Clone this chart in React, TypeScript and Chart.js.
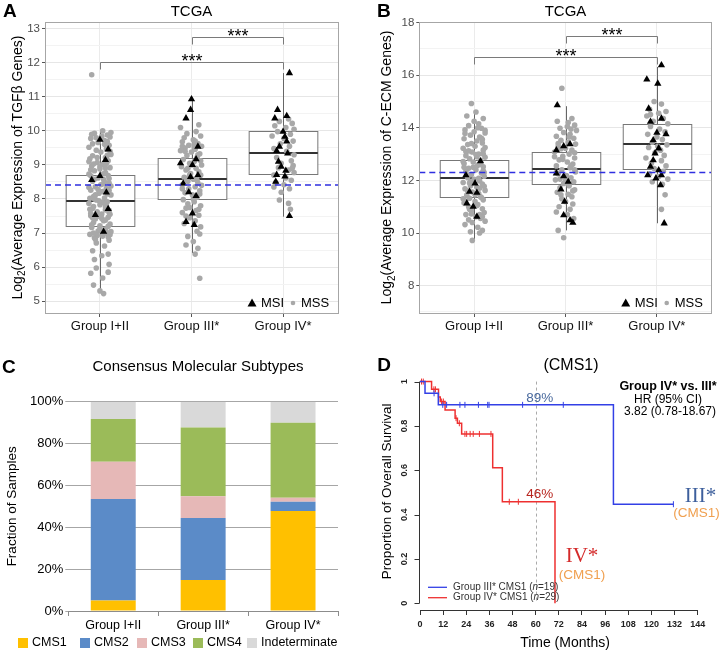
import React, { useEffect, useRef } from "react";
import { Chart, registerables } from "chart.js";

Chart.register(...registerables);

const SANS = "'Liberation Sans', Arial, Helvetica, sans-serif";
const SERIF = "'Liberation Serif', 'DejaVu Serif', 'Times New Roman', serif";

// ---------------- shared ----------------
const groupLabels = ["Group I+II", "Group III*", "Group IV*"];

// ---------------- Panel A : TGFβ (TCGA) ----------------
const tgfYMajor = [5, 6, 7, 8, 9, 10, 11, 12, 13];
const tgfYMinor = [5.5, 6.5, 7.5, 8.5, 9.5, 10.5, 11.5, 12.5];
const tgfQ1 = [7.22, 7.99, 8.74];
const tgfMedian = [7.93, 8.6, 9.35];
const tgfQ3 = [8.7, 9.21, 10.0];
const tgfWhiskerLow = [5.25, 6.41, 7.48];
const tgfWhiskerHigh = [10.0, 10.9, 11.7];
const tgfReference = 8.41;
const tgfBrackets = [
  [2, 3, 12.77],
  [1, 3, 12.02],
];
// [jitter offset, value]
const tgfMssGroup1 = [
  [-0.09, 11.65], [0.03, 10.0], [-0.06, 9.93], [0.08, 9.88], [0.11, 9.82], [-0.1, 9.78], [0.05, 9.72], [-0.02, 9.66],
  [0.1, 9.58], [-0.12, 9.52], [0.07, 9.47], [-0.04, 9.43], [0.01, 9.38], [0.12, 9.31], [-0.08, 9.27], [0.06, 9.22],
  [-0.11, 9.18], [0.09, 9.12], [-0.03, 9.07], [0.03, 9.02], [-0.09, 8.97], [0.11, 8.92], [0.0, 8.88], [-0.06, 8.83],
  [0.06, 8.78], [-0.12, 8.73], [0.09, 8.69], [-0.02, 8.62], [0.04, 8.57], [-0.08, 8.52], [0.1, 8.47], [0.01, 8.42],
  [-0.05, 8.36], [0.07, 8.31], [-0.1, 8.26], [0.03, 8.22], [-0.01, 8.17], [0.12, 8.12], [-0.07, 8.07], [0.05, 8.03],
  [-0.04, 7.97], [0.08, 7.92], [-0.12, 7.87], [0.0, 7.83], [0.06, 7.77], [-0.08, 7.72], [0.1, 7.67], [-0.03, 7.62],
  [0.02, 7.56], [-0.1, 7.51], [0.09, 7.46], [-0.05, 7.41], [0.04, 7.36], [-0.07, 7.31], [0.11, 7.26], [0.0, 7.21],
  [-0.09, 7.16], [0.06, 7.11], [-0.02, 7.06], [0.08, 7.01], [-0.11, 6.96], [0.03, 6.91], [-0.06, 6.86], [0.1, 6.79],
  [-0.04, 6.71], [0.05, 6.62], [-0.08, 6.48], [0.09, 6.38], [0.02, 6.33], [-0.06, 6.22], [0.1, 6.08], [-0.04, 5.97],
  [-0.1, 5.82], [0.09, 5.85], [0.03, 5.68], [-0.07, 5.47], [0.0, 5.3], [0.04, 5.22], [0.05, 9.61], [-0.07, 9.03],
  [0.1, 8.6], [-0.05, 8.12], [0.07, 7.8], [-0.1, 7.58], [0.02, 7.43], [0.12, 7.04], [-0.03, 6.93], [0.06, 8.91],
  [-0.12, 8.34], [0.0, 7.13], [0.08, 9.69], [-0.09, 9.9], [0.11, 6.95], [-0.01, 7.49], [0.04, 8.45], [-0.06, 8.0],
  [0.09, 7.2], [-0.11, 7.7], [0.02, 9.84], [-0.08, 9.62], [0.11, 9.4], [-0.03, 9.22], [0.07, 9.05], [-0.1, 8.86],
  [0.04, 8.74], [-0.06, 8.58], [0.12, 8.38], [-0.02, 8.28], [0.08, 8.15], [-0.11, 8.02], [0.03, 7.9], [-0.07, 7.78],
  [0.1, 7.6], [-0.04, 7.52], [0.06, 7.38], [-0.09, 7.24], [0.01, 7.09], [0.09, 6.88], [-0.05, 6.82], [0.12, 9.95],
  [-0.12, 9.1], [0.05, 8.5], [-0.01, 7.95], [0.11, 7.55], [-0.07, 7.0], [0.04, 6.98], [-0.1, 8.68], [0.08, 9.28],
  [-0.04, 9.8], [0.0, 8.95], [0.1, 8.25], [-0.08, 7.45], [0.06, 7.68],
];
const tgfMssGroup2 = [
  [0.08, 10.18], [-0.12, 10.1], [0.05, 9.98], [-0.05, 9.92], [0.1, 9.85], [-0.08, 9.8], [0.02, 9.74], [-0.1, 9.68],
  [0.07, 9.63], [-0.03, 9.58], [0.11, 9.55], [-0.07, 9.5], [0.04, 9.46], [-0.12, 9.42], [0.0, 9.38], [0.09, 9.33],
  [-0.05, 9.28], [0.06, 9.22], [-0.09, 9.16], [0.03, 9.1], [-0.02, 9.05], [0.11, 9.0], [-0.11, 8.95], [0.05, 8.9],
  [-0.06, 8.85], [0.08, 8.8], [-0.01, 8.75], [0.1, 8.7], [-0.08, 8.64], [0.02, 8.58], [-0.04, 8.52], [0.07, 8.47],
  [-0.1, 8.42], [0.04, 8.36], [-0.03, 8.3], [0.09, 8.24], [-0.07, 8.18], [0.01, 8.12], [0.06, 8.05], [-0.09, 7.98],
  [0.03, 7.92], [-0.04, 7.86], [0.1, 7.8], [-0.06, 7.73], [0.05, 7.66], [-0.1, 7.6], [0.08, 7.52], [-0.02, 7.45],
  [0.04, 7.36], [-0.08, 7.28], [0.1, 7.18], [0.06, 7.05], [0.09, 6.97], [-0.04, 6.9], [0.02, 6.75], [-0.06, 6.65],
  [0.07, 6.55], [0.04, 6.38], [0.09, 5.67], [-0.1, 9.55], [0.03, 9.6], [0.0, 9.0], [-0.06, 8.6], [0.11, 8.4],
  [-0.02, 7.75], [0.07, 9.3], [0.03, 9.52], [-0.07, 9.4], [0.1, 9.12], [-0.04, 8.9], [0.06, 8.55], [-0.1, 8.3],
  [0.02, 8.0], [0.08, 7.7], [-0.06, 7.5], [0.04, 9.7], [-0.02, 8.7], [0.09, 8.15],
];
const tgfMssGroup3 = [
  [0.06, 10.35], [-0.04, 10.28], [0.1, 10.22], [-0.09, 10.15], [0.03, 10.1], [0.12, 10.05], [-0.06, 9.98], [0.08, 9.9],
  [-0.12, 9.85], [0.01, 9.78], [0.11, 9.7], [-0.03, 9.62], [0.07, 9.55], [-0.1, 9.48], [0.04, 9.4], [0.12, 9.3],
  [-0.07, 9.22], [0.09, 9.12], [-0.02, 9.05], [0.11, 8.98], [-0.05, 8.92], [0.06, 8.85], [0.12, 8.78], [-0.1, 8.7],
  [0.03, 8.62], [0.09, 8.55], [-0.08, 8.48], [0.01, 8.42], [-0.1, 8.35], [0.07, 8.3], [-0.04, 7.97], [0.06, 7.87],
  [0.08, 7.7], [0.1, 8.9], [-0.02, 8.2],
];
const tgfMsiGroup1 = [
  [0, 9.74], [0.09, 9.46], [0.06, 9.15], [0, 8.68], [-0.09, 8.56], [0.07, 8.19], [0.09, 7.71], [-0.05, 7.53], [0.04, 7.04],
];
const tgfMsiGroup2 = [
  [0, 10.93], [-0.01, 10.62], [-0.06, 10.37], [0.07, 9.54], [-0.12, 9.05], [0.05, 9.17], [0.01, 9.0], [0.07, 8.7],
  [-0.01, 8.65], [-0.09, 8.46], [0.05, 8.09], [-0.06, 7.33], [0.03, 7.24], [0.01, 7.58], [-0.03, 8.2],
];
const tgfMsiGroup3 = [
  [0.07, 11.7], [-0.06, 10.62], [-0.09, 10.37], [0.04, 10.44], [0, 9.98], [0.02, 9.83], [-0.04, 9.54], [0.04, 9.69],
  [0.05, 9.34], [-0.07, 9.41], [-0.05, 9.1], [-0.02, 8.95], [0.03, 8.83], [-0.07, 8.71], [-0.08, 8.51], [0.02, 8.66],
  [0.07, 7.5],
];

// ---------------- Panel B : C-ECM (TCGA) ----------------
const ecmYMajor = [8, 10, 12, 14, 16, 18];
const ecmYMinor = [7, 9, 11, 13, 15, 17];
const ecmQ1 = [11.35, 11.85, 12.45];
const ecmMedian = [12.08, 12.44, 13.37];
const ecmQ3 = [12.77, 13.09, 14.16];
const ecmWhiskerLow = [9.75, 10.1, 10.37];
const ecmWhiskerHigh = [14.6, 14.82, 16.31];
const ecmReference = 12.3;
const ecmBrackets = [
  [2, 3, 17.49],
  [1, 3, 16.69],
];
const ecmMssGroup1 = [
  [-0.03, 14.92], [0.02, 14.6], [0.1, 14.35], [-0.08, 14.45], [0.05, 14.15], [-0.06, 14.08], [0.08, 13.98], [-0.1, 13.92],
  [0.0, 13.85], [0.12, 13.8], [-0.04, 13.72], [0.06, 13.65], [-0.11, 13.58], [0.03, 13.5], [0.09, 13.42], [-0.07, 13.36],
  [0.01, 13.3], [-0.12, 13.22], [0.1, 13.15], [-0.02, 13.08], [0.05, 13.0], [-0.09, 12.94], [0.12, 12.88], [-0.05, 12.82],
  [0.07, 12.76], [-0.01, 12.7], [-0.11, 12.64], [0.04, 12.58], [0.1, 12.52], [-0.06, 12.46], [0.02, 12.4], [-0.09, 12.34],
  [0.08, 12.28], [-0.03, 12.22], [0.11, 12.16], [-0.07, 12.1], [0.0, 12.04], [0.06, 11.98], [-0.12, 11.92], [0.09, 11.86],
  [-0.04, 11.8], [0.03, 11.74], [-0.1, 11.68], [0.12, 11.62], [-0.02, 11.56], [0.05, 11.5], [-0.08, 11.44], [0.07, 11.38],
  [-0.05, 11.32], [0.1, 11.26], [0.01, 11.2], [-0.11, 11.14], [0.04, 11.08], [-0.06, 11.0], [0.09, 10.92], [-0.03, 10.85],
  [0.11, 10.78], [-0.09, 10.7], [0.02, 10.62], [0.07, 10.55], [-0.06, 10.5], [0.12, 10.45], [-0.1, 10.32], [0.04, 10.22],
  [0.09, 10.1], [-0.04, 10.05], [0.06, 10.0], [-0.02, 9.72], [0.08, 13.6], [-0.09, 13.1], [0.11, 12.3], [-0.05, 11.9],
  [0.03, 12.9], [-0.12, 11.3], [0.06, 10.7], [0.0, 14.25], [0.04, 14.0], [-0.1, 13.78], [0.09, 13.55], [-0.03, 13.4],
  [0.12, 13.25], [-0.06, 13.12], [0.02, 12.98], [-0.12, 12.72], [0.07, 12.62], [-0.01, 12.5], [0.1, 12.36], [-0.08, 12.2],
  [0.05, 12.08], [-0.04, 11.95], [0.11, 11.78], [-0.07, 11.6], [0.01, 11.45], [0.08, 11.35], [-0.1, 11.22], [0.03, 11.05],
  [-0.05, 10.9], [0.09, 10.62], [-0.02, 10.4], [0.12, 13.9], [-0.11, 12.5], [0.06, 11.7], [-0.03, 10.72], [0.1, 13.0],
];
const ecmMssGroup2 = [
  [-0.04, 15.5], [0.07, 14.35], [-0.09, 14.25], [0.1, 14.1], [0.02, 14.05], [-0.06, 13.98], [0.12, 13.9], [-0.02, 13.82],
  [0.05, 13.75], [-0.1, 13.68], [0.09, 13.6], [-0.05, 13.52], [0.03, 13.45], [0.11, 13.38], [-0.08, 13.3], [0.0, 13.22],
  [0.07, 13.15], [-0.12, 13.08], [0.04, 13.0], [-0.03, 12.92], [0.1, 12.85], [-0.07, 12.78], [0.02, 12.7], [0.08, 12.62],
  [-0.1, 12.55], [0.05, 12.48], [-0.04, 12.4], [0.11, 12.32], [-0.08, 12.25], [0.01, 12.18], [0.06, 12.1], [-0.11, 12.02],
  [0.09, 11.95], [-0.02, 11.88], [0.04, 11.8], [-0.06, 11.72], [0.1, 11.64], [-0.09, 11.55], [0.03, 11.47], [0.07, 11.38],
  [-0.04, 11.3], [0.0, 11.2], [0.08, 11.1], [-0.07, 11.0], [0.05, 10.9], [-0.1, 10.8], [0.02, 10.7], [0.09, 10.55],
  [-0.08, 10.1], [-0.02, 9.82], [0.06, 13.95], [-0.05, 13.2], [0.1, 12.4], [0.0, 12.0], [-0.12, 12.9], [0.04, 13.65],
  [-0.08, 13.4], [0.1, 13.05], [-0.03, 12.8], [0.06, 12.55], [-0.1, 12.3], [0.02, 11.9], [0.08, 11.6], [-0.05, 11.45],
  [0.03, 14.2], [-0.06, 12.05],
];
const ecmMssGroup3 = [
  [-0.03, 15.0], [0.05, 14.9], [-0.08, 14.7], [0.1, 14.62], [0.02, 14.55], [-0.11, 14.45], [0.07, 14.35], [-0.04, 14.25],
  [0.12, 14.15], [-0.07, 14.05], [0.03, 13.95], [0.09, 13.85], [-0.1, 13.75], [0.0, 13.65], [0.06, 13.55], [-0.05, 13.45],
  [0.11, 13.35], [-0.09, 13.25], [0.04, 13.15], [-0.02, 13.05], [0.08, 12.95], [-0.12, 12.85], [0.05, 12.75], [-0.06, 12.65],
  [0.1, 12.55], [-0.03, 12.45], [0.07, 12.35], [-0.08, 12.25], [0.02, 12.15], [0.12, 12.05], [-0.05, 11.95], [0.06, 11.85],
  [0.09, 11.45], [0.05, 10.9], [-0.07, 14.5], [0.01, 13.3],
];
const ecmMsiGroup1 = [
  [0.07, 12.73], [0.01, 11.89], [-0.09, 12.2], [-0.05, 11.57], [0.03, 11.53], [-0.08, 11.13], [0.03, 10.62], [-0.01, 11.0],
];
const ecmMsiGroup2 = [
  [-0.09, 14.86], [-0.1, 13.15], [0.05, 13.38], [-0.02, 13.3], [-0.1, 12.27], [-0.02, 12.16], [0.03, 11.95], [-0.05, 11.66],
  [-0.01, 11.19], [-0.02, 10.68], [0.05, 10.49], [0.08, 10.39],
];
const ecmMsiGroup3 = [
  [0.05, 16.38], [-0.11, 15.84], [0.01, 15.68], [-0.09, 14.73], [-0.07, 14.23], [0.05, 14.35], [0.1, 13.76], [0, 13.81],
  [-0.04, 13.53], [0.02, 13.22], [-0.02, 13.03], [-0.04, 12.77], [-0.07, 12.52], [0.02, 12.39], [-0.1, 12.2], [0.05, 12.2],
  [-0.01, 12.08], [0.04, 11.82], [0.08, 10.37],
];

// ---------------- Panel C : CMS stacked bars ----------------
const cmsNames = ["CMS1", "CMS2", "CMS3", "CMS4", "Indeterminate"];
const cmsColors = ["#FFC000", "#5B8BC8", "#E6B8B7", "#9BBB59", "#D9D9D9"];
const cms1 = [5.0, 14.8, 47.8];
const cms2 = [48.5, 29.6, 4.4];
const cms3 = [17.8, 10.4, 1.9];
const cms4 = [20.4, 32.9, 35.9];
const cmsIndeterminate = [8.3, 12.3, 10.0];
const cmsYTicks = [0, 20, 40, 60, 80, 100];

// ---------------- Panel D : Kaplan-Meier (CMS1) ----------------
const kmXTicks = [0, 12, 24, 36, 48, 60, 72, 84, 96, 108, 120, 132, 144];
const kmYTicks = [0, 0.2, 0.4, 0.6, 0.8, 1];
const kmYTickLabels = ["0", "0.2", "0.4", "0.6", "0.8", "1"];
const group3Times = [0, 2.6, 9.5, 100.3, 131.4];
const group3Surv = [1, 0.947, 0.895, 0.447, 0.447];
const group3CensorTimes = [7.3, 11.8, 13.8, 20.7, 23.3, 30.3, 35.1, 35.8, 53.2, 74.3, 131.4];
const group3CensorSurv = [0.947, 0.895, 0.895, 0.895, 0.895, 0.895, 0.895, 0.895, 0.895, 0.895, 0.447];
const group4Times = [0, 6.0, 9.6, 10.5, 13.0, 18.2, 19.4, 21.6, 37.7, 42.7, 70.0];
const group4Surv = [1, 0.965, 0.93, 0.91, 0.872, 0.835, 0.812, 0.764, 0.611, 0.458, 0];
const group4CensorTimes = [0.8, 1.7, 7.2, 8.0, 11.2, 12.1, 18.7, 20.4, 23.3, 24.2, 26.0, 27.6, 30.8, 36.8, 46.3, 51.0];
const group4CensorSurv = [1, 1, 0.965, 0.965, 0.91, 0.91, 0.835, 0.812, 0.764, 0.764, 0.764, 0.764, 0.764, 0.764, 0.458, 0.458];
const kmLandmark = 60;
const kmLandmarkSurv = [0.895, 0.458];
const kmLandmarkLabels = ["89%", "46%"];

// ---------------- helpers ----------------
function jitterPoints(groups: number[][][]) {
  const out: { x: number; y: number }[] = [];
  groups.forEach((g, i) => g.forEach(([dx, v]) => out.push({ x: i + 1 + dx, y: v })));
  return out;
}

function drawRotatedLog2Title(ctx: CanvasRenderingContext2D, cx: number, cy: number, rest: string, size: number) {
  ctx.save();
  ctx.translate(cx, cy);
  ctx.rotate(-Math.PI / 2);
  ctx.fillStyle = "#000";
  ctx.textBaseline = "middle";
  ctx.textAlign = "left";
  const f = `${size}px ${SANS}`;
  const fs = `${Math.round(size * 0.72)}px ${SANS}`;
  ctx.font = f;
  const w1 = ctx.measureText("Log").width;
  const w3 = ctx.measureText(rest).width;
  ctx.font = fs;
  const w2 = ctx.measureText("2").width;
  const x0 = -(w1 + w2 + w3) / 2;
  ctx.font = f;
  ctx.fillText("Log", x0, 0);
  ctx.font = fs;
  ctx.fillText("2", x0 + w1, size * 0.32);
  ctx.font = f;
  ctx.fillText(rest, x0 + w1 + w2, 0);
  ctx.restore();
}

function drawRotatedText(ctx: CanvasRenderingContext2D, text: string, cx: number, cy: number, font: string, color = "#000") {
  ctx.save();
  ctx.translate(cx, cy);
  ctx.rotate(-Math.PI / 2);
  ctx.font = font;
  ctx.fillStyle = color;
  ctx.textAlign = "center";
  ctx.textBaseline = "middle";
  ctx.fillText(text, 0, 0);
  ctx.restore();
}

function text(ctx: CanvasRenderingContext2D, s: string, x: number, y: number, font: string, color = "#000", align: CanvasTextAlign = "center", baseline: CanvasTextBaseline = "middle") {
  ctx.font = font;
  ctx.fillStyle = color;
  ctx.textAlign = align;
  ctx.textBaseline = baseline;
  ctx.fillText(s, x, y);
}

type BoxCfg = {
  q1: number[];
  med: number[];
  q3: number[];
  lo: number[];
  hi: number[];
  ref: number;
  brackets: number[][];
  letter: string;
  letterX: number;
  yTitleRest: string;
  yTitleX: number;
};

function makeBoxPlugin(p: BoxCfg) {
  return {
    id: "boxPanel",
    beforeDatasetsDraw(chart: any) {
      const { ctx, scales } = chart;
      const x = scales.x;
      const y = scales.y;
      ctx.save();
      for (let i = 0; i < p.q1.length; i++) {
        const cx = Math.round(x.getPixelForValue(i + 1)) + 0.5;
        const half = x.getPixelForValue(i + 1 + 0.375) - x.getPixelForValue(i + 1);
        const yq1 = Math.round(y.getPixelForValue(p.q1[i])) + 0.5;
        const yq3 = Math.round(y.getPixelForValue(p.q3[i])) + 0.5;
        const ym = Math.round(y.getPixelForValue(p.med[i]));
        const ylo = y.getPixelForValue(p.lo[i]);
        const yhi = y.getPixelForValue(p.hi[i]);
        ctx.strokeStyle = "#666";
        ctx.lineWidth = 1;
        ctx.beginPath();
        ctx.moveTo(cx, yq1);
        ctx.lineTo(cx, ylo);
        ctx.moveTo(cx, yq3);
        ctx.lineTo(cx, yhi);
        ctx.stroke();
        ctx.fillStyle = "#fff";
        ctx.fillRect(cx - half, yq3, 2 * half, yq1 - yq3);
        ctx.strokeStyle = "#777";
        ctx.strokeRect(cx - half, yq3, 2 * half, yq1 - yq3);
        ctx.strokeStyle = "#333";
        ctx.lineWidth = 1.8;
        ctx.beginPath();
        ctx.moveTo(cx - half, ym);
        ctx.lineTo(cx + half, ym);
        ctx.stroke();
      }
      ctx.restore();
    },
    afterDatasetsDraw(chart: any) {
      const { ctx, scales, chartArea: a } = chart;
      const x = scales.x;
      const y = scales.y;
      ctx.save();
      const yr = y.getPixelForValue(p.ref);
      ctx.strokeStyle = "#2f2fe0";
      ctx.lineWidth = 1.5;
      ctx.setLineDash([6, 4]);
      ctx.beginPath();
      ctx.moveTo(a.left, yr);
      ctx.lineTo(a.right, yr);
      ctx.stroke();
      ctx.setLineDash([]);
      for (const [g1, g2, v] of p.brackets) {
        const x1 = Math.round(x.getPixelForValue(g1)) + 0.5;
        const x2 = Math.round(x.getPixelForValue(g2)) + 0.5;
        const yy = Math.round(y.getPixelForValue(v)) + 0.5;
        ctx.strokeStyle = "#7a7a7a";
        ctx.lineWidth = 1;
        ctx.beginPath();
        ctx.moveTo(x1, yy + 7);
        ctx.lineTo(x1, yy);
        ctx.lineTo(x2, yy);
        ctx.lineTo(x2, yy + 7);
        ctx.stroke();
        text(ctx, "***", (x1 + x2) / 2, yy + 4, `18px ${SANS}`, "#000", "center", "alphabetic");
      }
      ctx.strokeStyle = "#a6a6a6";
      ctx.lineWidth = 1;
      ctx.strokeRect(Math.round(a.left) + 0.5, Math.round(a.top) + 0.5, Math.round(a.right - a.left), Math.round(a.bottom - a.top));
      const ly = a.bottom - 10;
      const r = a.right;
      ctx.fillStyle = "#000";
      ctx.beginPath();
      ctx.moveTo(r - 86, ly - 4.5);
      ctx.lineTo(r - 81.5, ly + 3.5);
      ctx.lineTo(r - 90.5, ly + 3.5);
      ctx.closePath();
      ctx.fill();
      text(ctx, "MSI", r - 77, ly, `13px ${SANS}`, "#000", "left");
      ctx.fillStyle = "#a8a8a8";
      ctx.beginPath();
      ctx.arc(r - 45, ly, 2.3, 0, Math.PI * 2);
      ctx.fill();
      text(ctx, "MSS", r - 37, ly, `13px ${SANS}`, "#000", "left");
      text(ctx, "TCGA", (a.left + a.right) / 2, 12, `15px ${SANS}`);
      text(ctx, p.letter, p.letterX, 12, `bold 19px ${SANS}`, "#000", "left");
      drawRotatedLog2Title(ctx, p.yTitleX, (a.top + a.bottom) / 2, p.yTitleRest, 14);
      ctx.restore();
    },
  };
}

function boxConfig(
  mss: { x: number; y: number }[],
  msi: { x: number; y: number }[],
  yMin: number,
  yMax: number,
  major: number[],
  minor: number[],
  yAxisWidth: number,
  padRight: number,
  plugin: any
) {
  const all = [...major, ...minor].sort((a, b) => a - b);
  const isMajor = (c: any) => c && c.tick && major.includes(c.tick.value);
  return {
    type: "scatter",
    data: {
      datasets: [
        { data: msi, pointStyle: "triangle", pointRadius: 4.2, backgroundColor: "#000", borderColor: "#000", borderWidth: 0 },
        { data: mss, pointStyle: "circle", pointRadius: 2.8, backgroundColor: "#a8a8a8", borderColor: "#a8a8a8", borderWidth: 0 },
      ],
    },
    options: {
      animation: false,
      responsive: false,
      devicePixelRatio: 1,
      events: [],
      layout: { padding: { top: 22, right: padRight, left: 0, bottom: 0 } },
      plugins: { legend: { display: false }, tooltip: { enabled: false } },
      scales: {
        x: {
          type: "linear",
          min: 0.4,
          max: 3.6,
          afterBuildTicks: (s: any) => {
            s.ticks = [1, 2, 3].map((v) => ({ value: v }));
          },
          afterFit: (s: any) => {
            s.height = 27;
          },
          ticks: {
            callback: (v: number) => groupLabels[Math.round(v) - 1],
            font: { size: 13, family: SANS },
            color: "#111",
            padding: 2,
            autoSkip: false,
            maxRotation: 0,
            minRotation: 0,
          },
          grid: { color: "#ebebeb", tickColor: "#555", tickLength: 4 },
          border: { display: false },
        },
        y: {
          type: "linear",
          min: yMin,
          max: yMax,
          afterBuildTicks: (s: any) => {
            s.ticks = all.map((v) => ({ value: v }));
          },
          afterFit: (s: any) => {
            s.width = yAxisWidth;
          },
          ticks: {
            callback: (v: number) => (major.includes(v) ? String(v) : ""),
            font: { size: 11.5, family: SANS },
            color: "#4d4d4d",
            padding: 2,
            autoSkip: false,
          },
          grid: {
            color: (c: any) => (isMajor(c) ? "#e6e6e6" : "#f3f3f3"),
            tickColor: (c: any) => (isMajor(c) ? "#555" : "rgba(0,0,0,0)"),
            tickLength: 3,
          },
          border: { display: false },
        },
      },
    },
    plugins: [plugin],
  };
}

function makeA() {
  const plugin = makeBoxPlugin({
    q1: tgfQ1,
    med: tgfMedian,
    q3: tgfQ3,
    lo: tgfWhiskerLow,
    hi: tgfWhiskerHigh,
    ref: tgfReference,
    brackets: tgfBrackets,
    letter: "A",
    letterX: 3,
    yTitleRest: "(Average Expression of TGFβ Genes)",
    yTitleX: 18,
  });
  return boxConfig(
    jitterPoints([tgfMssGroup1, tgfMssGroup2, tgfMssGroup3]),
    jitterPoints([tgfMsiGroup1, tgfMsiGroup2, tgfMsiGroup3]),
    4.65,
    13.2,
    tgfYMajor,
    tgfYMinor,
    45,
    22,
    plugin
  );
}

function makeB() {
  const plugin = makeBoxPlugin({
    q1: ecmQ1,
    med: ecmMedian,
    q3: ecmQ3,
    lo: ecmWhiskerLow,
    hi: ecmWhiskerHigh,
    ref: ecmReference,
    brackets: ecmBrackets,
    letter: "B",
    letterX: 17,
    yTitleRest: "(Average Expression of C-ECM Genes)",
    yTitleX: 27.5,
  });
  return boxConfig(
    jitterPoints([ecmMssGroup1, ecmMssGroup2, ecmMssGroup3]),
    jitterPoints([ecmMsiGroup1, ecmMsiGroup2, ecmMsiGroup3]),
    6.96,
    18.02,
    ecmYMajor,
    ecmYMinor,
    59.3,
    11.3,
    plugin
  );
}

function makeC() {
  const series = [cms1, cms2, cms3, cms4, cmsIndeterminate];
  const plugin = {
    id: "cmsDecor",
    afterDraw(chart: any) {
      const { ctx, chartArea: a } = chart;
      ctx.save();
      text(ctx, "C", 2, 27.5, `bold 19px ${SANS}`, "#000", "left");
      text(ctx, "Consensus Molecular Subtypes", 198, 27, `15px ${SANS}`);
      drawRotatedText(ctx, "Fraction of Samples", 12.5, (a.top + a.bottom) / 2, `13.5px ${SANS}`);
      const legX = [18, 80, 137, 193, 247];
      const ly = 303;
      cmsNames.forEach((n, i) => {
        ctx.fillStyle = cmsColors[i];
        ctx.fillRect(legX[i], ly - 5, 10, 10);
        text(ctx, n, legX[i] + 14, ly, `12.5px ${SANS}`, "#000", "left");
      });
      ctx.restore();
    },
  };
  return {
    type: "bar",
    data: {
      labels: groupLabels,
      datasets: series.map((d, i) => ({
        label: cmsNames[i],
        data: d,
        backgroundColor: cmsColors[i],
        borderWidth: 0,
        barPercentage: 0.5,
        categoryPercentage: 1.0,
      })),
    },
    options: {
      animation: false,
      responsive: false,
      devicePixelRatio: 1,
      events: [],
      layout: { padding: { top: 61.7, right: 22, left: 0, bottom: 0 } },
      plugins: { legend: { display: false }, tooltip: { enabled: false } },
      scales: {
        x: {
          stacked: true,
          afterFit: (s: any) => {
            s.height = 44;
          },
          ticks: { font: { size: 12.5, family: SANS }, color: "#000", padding: 2, maxRotation: 0, autoSkip: false },
          grid: { display: true, drawOnChartArea: false, offset: true, color: "#8c8c8c", tickLength: 5 },
          border: { display: true, color: "#8c8c8c" },
        },
        y: {
          stacked: true,
          min: 0,
          max: 100,
          afterBuildTicks: (s: any) => {
            s.ticks = cmsYTicks.map((v) => ({ value: v }));
          },
          afterFit: (s: any) => {
            s.width = 68.3;
          },
          ticks: { callback: (v: number) => `${v}%`, font: { size: 13, family: SANS }, color: "#000", padding: 2 },
          grid: { color: "#a6a6a6", tickLength: 3 },
          border: { display: false },
        },
      },
    },
    plugins: [plugin],
  };
}

function makeD() {
  const blue = "#3340e6";
  const red = "#ee3030";
  const plugin = {
    id: "kmDecor",
    beforeDatasetsDraw(chart: any) {
      const { ctx, scales } = chart;
      const x = scales.x;
      const y = scales.y;
      ctx.save();
      const xv = Math.round(x.getPixelForValue(kmLandmark)) + 0.5;
      ctx.strokeStyle = "#aaaaaa";
      ctx.lineWidth = 1;
      ctx.setLineDash([3, 3]);
      ctx.beginPath();
      ctx.moveTo(xv, y.getPixelForValue(1));
      ctx.lineTo(xv, y.getPixelForValue(0));
      ctx.stroke();
      ctx.restore();
    },
    afterDatasetsDraw(chart: any) {
      const { ctx, scales, chartArea: a } = chart;
      const x = scales.x;
      const y = scales.y;
      ctx.save();
      const ax = Math.round(a.left) - 0.5;
      ctx.strokeStyle = "#333";
      ctx.lineWidth = 1;
      ctx.beginPath();
      ctx.moveTo(ax, y.getPixelForValue(0));
      ctx.lineTo(ax, y.getPixelForValue(1));
      kmYTicks.forEach((v) => {
        const py = Math.round(y.getPixelForValue(v)) + 0.5;
        ctx.moveTo(ax, py);
        ctx.lineTo(ax - 5, py);
      });
      ctx.stroke();
      kmYTicks.forEach((v, i) => {
        drawRotatedText(ctx, kmYTickLabels[i], ax - 15, y.getPixelForValue(v), `bold 9px ${SANS}`, "#222");
      });
      const lx = x.getPixelForValue(kmLandmark) + 4;
      text(ctx, kmLandmarkLabels[0], lx, y.getPixelForValue(kmLandmarkSurv[0]) - 2.5, `13.5px ${SANS}`, "#4a6a9e", "center", "alphabetic");
      text(ctx, kmLandmarkLabels[1], lx, y.getPixelForValue(kmLandmarkSurv[1]) - 3.5, `13.5px ${SANS}`, "#b8261f", "center", "alphabetic");
      const e3x = x.getPixelForValue(group3Times[group3Times.length - 1]);
      const e3y = y.getPixelForValue(group3Surv[group3Surv.length - 1]);
      text(ctx, "III*", e3x + 27, e3y - 8, `21px ${SERIF}`, "#3d5f9c");
      text(ctx, "(CMS1)", e3x + 23, e3y + 9, `13.5px ${SANS}`, "#f0a050");
      const e4x = x.getPixelForValue(group4Times[group4Times.length - 1]);
      const e4y = y.getPixelForValue(0.2);
      text(ctx, "IV*", e4x + 27, e4y - 3, `21px ${SERIF}`, "#d42a2a");
      text(ctx, "(CMS1)", e4x + 27, e4y + 16, `13.5px ${SANS}`, "#f0a050");
      text(ctx, "D", 17.3, 26, `bold 19px ${SANS}`, "#000", "left");
      text(ctx, "(CMS1)", 211, 26, `16px ${SANS}`);
      text(ctx, "Group IV* vs. III*", 308, 47, `bold 12.5px ${SANS}`);
      text(ctx, "HR (95% CI)", 308, 60, `12px ${SANS}`);
      text(ctx, "3.82 (0.78-18.67)", 310, 72, `12px ${SANS}`);
      drawRotatedText(ctx, "Proportion of Overall Survival", 27.5, (a.top + a.bottom) / 2, `13.5px ${SANS}`);
      text(ctx, "Time (Months)", 205, 303, `14px ${SANS}`);
      const legs = [
        { c: blue, pre: "Group III* CMS1 (", post: "=19)", y: 247.3 },
        { c: red, pre: "Group IV* CMS1 (", post: "=29)", y: 257.7 },
      ];
      legs.forEach((l) => {
        ctx.strokeStyle = l.c;
        ctx.lineWidth = 1.3;
        ctx.beginPath();
        ctx.moveTo(68, l.y);
        ctx.lineTo(87, l.y);
        ctx.stroke();
        ctx.font = `10px ${SANS}`;
        const w1 = ctx.measureText(l.pre).width;
        text(ctx, l.pre, 93, l.y, `10px ${SANS}`, "#333", "left");
        ctx.font = `italic 10px ${SANS}`;
        const w2 = ctx.measureText("n").width;
        text(ctx, "n", 93 + w1, l.y, `italic 10px ${SANS}`, "#333", "left");
        text(ctx, l.post, 93 + w1 + w2, l.y, `10px ${SANS}`, "#333", "left");
      });
      ctx.restore();
    },
  };
  const toPts = (t: number[], s: number[]) => t.map((v, i) => ({ x: v, y: s[i] }));
  return {
    type: "line",
    data: {
      datasets: [
        { data: toPts(group3Times, group3Surv), stepped: true, borderColor: blue, borderWidth: 1.5, pointRadius: 0, fill: false },
        { data: toPts(group4Times, group4Surv), stepped: true, borderColor: red, borderWidth: 1.5, pointRadius: 0, fill: false },
        {
          data: toPts(group3CensorTimes, group3CensorSurv),
          showLine: false,
          pointStyle: "line",
          pointRotation: 90,
          pointRadius: 3,
          pointBorderWidth: 1,
          pointBorderColor: blue,
          borderColor: blue,
        },
        {
          data: toPts(group4CensorTimes, group4CensorSurv),
          showLine: false,
          pointStyle: "line",
          pointRotation: 90,
          pointRadius: 3,
          pointBorderWidth: 1,
          pointBorderColor: red,
          borderColor: red,
        },
      ],
    },
    options: {
      animation: false,
      responsive: false,
      devicePixelRatio: 1,
      events: [],
      layout: { padding: { top: 32.7, right: 25.3, left: 0, bottom: 0 } },
      plugins: { legend: { display: false }, tooltip: { enabled: false } },
      scales: {
        x: {
          type: "linear",
          min: 0,
          max: 144,
          afterBuildTicks: (s: any) => {
            s.ticks = kmXTicks.map((v) => ({ value: v }));
          },
          afterFit: (s: any) => {
            s.height = 45;
          },
          ticks: { font: { size: 9, family: SANS, weight: "bold" }, color: "#222", padding: 4, autoSkip: false, maxRotation: 0 },
          grid: { display: true, drawOnChartArea: false, color: "#333", tickLength: 5 },
          border: { display: true, color: "#333", width: 1 },
        },
        y: {
          type: "linear",
          min: -0.03,
          max: 1.04,
          afterFit: (s: any) => {
            s.width = 60;
          },
          ticks: { display: false },
          grid: { display: false },
          border: { display: false },
        },
      },
    },
    plugins: [plugin],
  };
}

function ChartCanvas({ make, left, top, width, height }: any) {
  const ref = useRef<HTMLCanvasElement>(null);
  useEffect(() => {
    const chart = new Chart(ref.current as HTMLCanvasElement, make());
    return () => chart.destroy();
  }, [make]);
  return (
    <canvas
      ref={ref}
      width={width}
      height={height}
      style={{ position: "absolute", left, top, width, height, display: "block" }}
    />
  );
}

export default function App() {
  return (
    <div style={{ position: "absolute", left: 0, top: 0, width: 723, height: 655, background: "#fff", overflow: "hidden" }}>
      <ChartCanvas make={makeA} left={0} top={0} width={360} height={340} />
      <ChartCanvas make={makeB} left={360} top={0} width={363} height={340} />
      <ChartCanvas make={makeC} left={0} top={340} width={360} height={315} />
      <ChartCanvas make={makeD} left={360} top={340} width={363} height={315} />
    </div>
  );
}
